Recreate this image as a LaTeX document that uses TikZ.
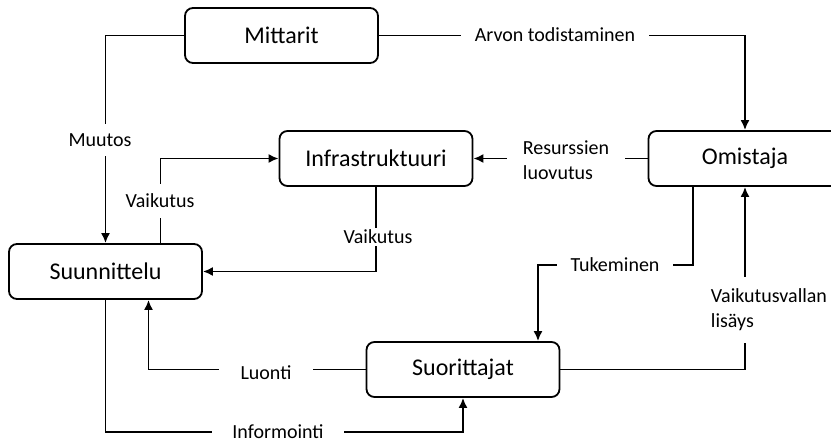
\documentclass[tikz,border=0pt]{standalone}
\usepackage{fontspec}
\setmainfont{Carlito}
\usetikzlibrary{arrows.meta}
\usetikzlibrary{positioning}

\begin{document}
\begin{tikzpicture}[
  x=1pt, y=-1pt,
  line width=1.8pt,
  > = {Latex[length=10pt,width=9pt]},
  box/.style = {draw, rounded corners=8pt, minimum width=193pt, minimum height=55pt,
                font=\fontsize{24}{29}\selectfont},
  lbl/.style = {fill=white, inner xsep=14pt, inner ysep=5pt, align=left,
                font=\fontsize{20}{25}\selectfont}
  ]
	\clip (0,0) rectangle (831,446);

	% boxes
	\node[box] (mit) at (281.5,35.5) {Mittarit};
	\node[box] (inf) at (376,158.5) {Infrastruktuuri};
	\node[box] (omi) at (745,158.5) {Omistaja};
	\node[box] (suu) at (105.5,271.5) {Suunnittelu};
	\node[box] (sor) at (463,369.5) {Suorittajat};

	\coordinate (@tuk) at (615,265);
	\coordinate (@info) at (278,432);

	% connectors
	\draw[->] (mit.west) -| (suu.north);
	\draw[->] (mit.east) -| (omi.north);
	\draw[->] (omi.west) -- (inf.east);
	\draw[->] ([xshift=55pt]suu.north) |- (inf.west);
	\draw[->] (inf.south) |- (suu.east);
	\draw[->] ([xshift=-52pt]omi.south) |- (@tuk) -| ([xshift=75pt]sor.north);
	\draw[->] (sor.east) -| (omi.south);
	\draw[->] (sor.west) -| ([xshift=43pt]suu.south);
	\draw[->] (suu.south) |- (@info) -| (sor.south);

	% labels
	\node[lbl, inner ysep=10pt] (muutos) at (100,140) {Muutos};
	\node[lbl] (arvon) at (555,35) {Arvon todistaminen};
	\node[lbl, inner xsep=16pt] (resurssi) at (566,160) {Resurssien\\luovutus};
	\node[lbl, inner ysep=10pt] (vaik1) at (160,201) {Vaikutus};
	\node[lbl, inner ysep=2pt] (vaik2) at (378,237) {Vaikutus};
	\node[lbl] (tuki) at (@tuk) {Tukeminen};
	\node[lbl, inner ysep=12pt] (lisays) at (769,310) {Vaikutusvallan\\lisäys};
	\node[lbl, inner xsep=22pt] (luonti) at (266,373) {Luonti};
	\node[lbl, inner xsep=20pt, inner ysep=1pt] (informointi) at (@info) {Informointi};

\end{tikzpicture}
\end{document}
